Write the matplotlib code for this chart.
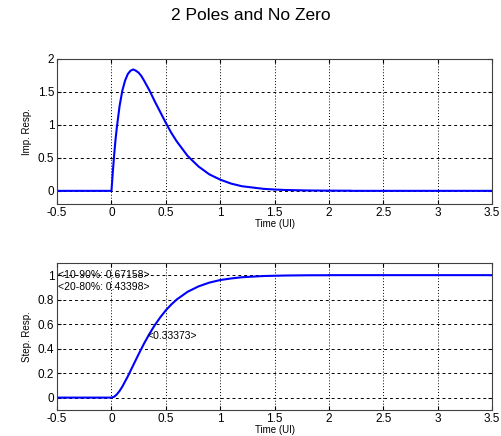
import matplotlib
matplotlib.use("Agg")
import matplotlib.pyplot as plt

plt.rcParams['font.family'] = ['Liberation Sans', 'DejaVu Sans']

# impulse response
t_imp = [-0.5, 0.0, 0.0125, 0.025, 0.0375, 0.05, 0.075, 0.1, 0.125, 0.15, 0.175, 0.2, 0.225, 0.25,
         0.275, 0.3, 0.35, 0.4, 0.45, 0.5, 0.55, 0.6, 0.7, 0.8, 0.9, 1.0, 1.1, 1.2, 1.3, 1.4, 1.5,
         1.6, 1.8, 2.0, 2.2, 2.2, 3.5]
h_imp = [0.0, 0.0, 0.29, 0.55, 0.78, 0.97, 1.29, 1.52, 1.67, 1.77, 1.82, 1.84, 1.82, 1.79,
         1.74, 1.67, 1.52, 1.35, 1.19, 1.03, 0.88, 0.75, 0.53, 0.37, 0.25, 0.17, 0.11, 0.07, 0.05,
         0.03, 0.02, 0.013, 0.006, 0.003, 0.002, 0.0, 0.0]

# step response
t_step = [-0.5, 0.0, 0.025, 0.05, 0.075, 0.1, 0.15, 0.2, 0.25, 0.3, 0.35, 0.4, 0.45, 0.5, 0.55,
          0.6, 0.7, 0.8, 0.9, 1.0, 1.1, 1.2, 1.4, 1.6, 1.8, 2.0, 2.0, 3.5]
s_step = [0.0, 0.0, 0.007, 0.027, 0.055, 0.09, 0.173, 0.264, 0.355, 0.442, 0.522, 0.594, 0.657,
          0.713, 0.760, 0.801, 0.864, 0.908, 0.939, 0.960, 0.973, 0.983, 0.993, 0.997, 0.999,
          0.9993, 1.0, 1.0]

notes = ["<10-90%: 0.67158>", "<20-80%: 0.43398>", "<0.33373>"]
note_x = [-0.49, -0.49, 0.33373]
note_y = [1.0, 0.9, 0.5]

fig = plt.figure(figsize=(5.01, 4.36), dpi=100)
fig.text(0.5, 0.964, "2 Poles and No Zero", ha='center', va='center', fontsize=12.5)

ax1 = fig.add_axes([0.114, 0.532, 0.868, 0.333])
ax2 = fig.add_axes([0.114, 0.060, 0.868, 0.337])

ax1.plot(t_imp, h_imp, color='#0000ff', lw=1.5)
ax1.set_ylim(-0.2, 2)
ax1.set_yticks([0, 0.5, 1, 1.5, 2])
ax1.set_yticklabels(['0', '0.5', '1', '1.5', '2'])
ax1.set_ylabel("Imp. Resp.", fontsize=7, labelpad=4)

ax2.plot(t_step, s_step, color='#0000ff', lw=1.5)
ax2.set_ylim(-0.1, 1.1)
ax2.set_yticks([0, 0.2, 0.4, 0.6, 0.8, 1])
ax2.set_yticklabels(['0', '0.2', '0.4', '0.6', '0.8', '1'])
ax2.set_ylabel("Step. Resp.", fontsize=7, labelpad=4)
for s, x, y in zip(notes, note_x, note_y):
    ax2.text(x, y, s, fontsize=7.5, va='center', ha='left')

for ax in (ax1, ax2):
    ax.set_xlim(-0.5, 3.5)
    ax.set_xticks([-0.5, 0, 0.5, 1, 1.5, 2, 2.5, 3, 3.5])
    ax.set_xticklabels(['-0.5', '0', '0.5', '1', '1.5', '2', '2.5', '3', '3.5'])
    ax.set_xlabel("Time (UI)", fontsize=7, labelpad=0)
    ax.tick_params(direction='in', top=True, right=True, length=3, labelsize=8.5, pad=2)
    ax.xaxis.grid(True, color='black', linestyle=(0, (1, 2)), lw=0.7)
    ax.yaxis.grid(True, color='black', linestyle=(0, (3, 3)), lw=0.7)
    ax.set_axisbelow(True)
    for sp in ax.spines.values():
        sp.set_color('#404040')
        sp.set_linewidth(0.8)

fig.savefig("out.png", dpi=100)
